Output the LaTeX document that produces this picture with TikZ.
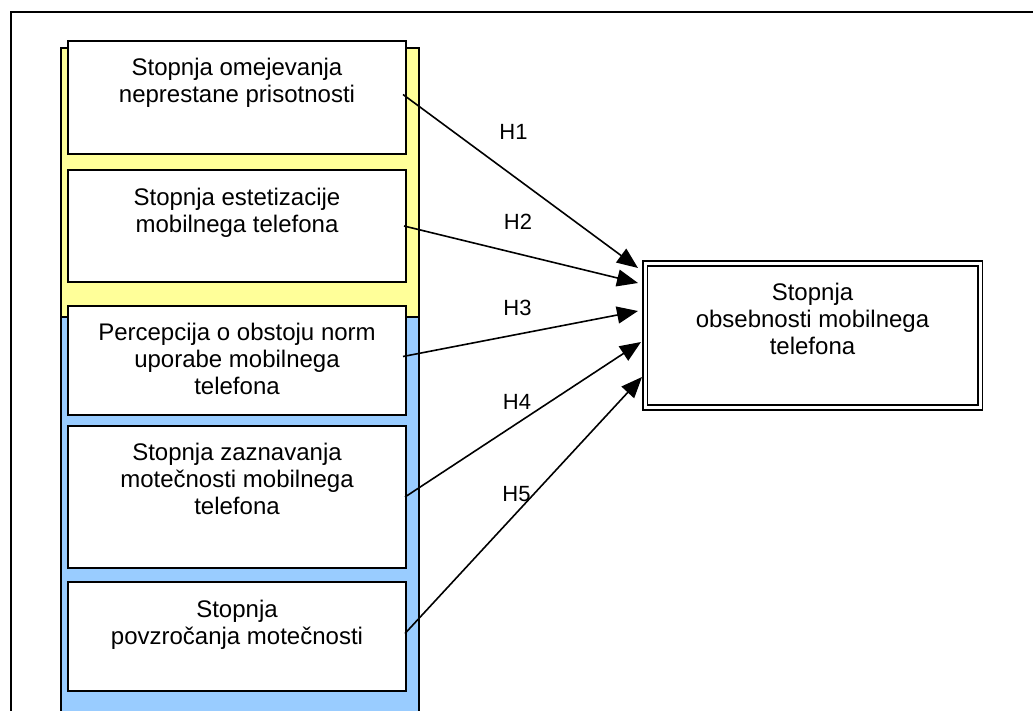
\documentclass[tikz,border=0pt]{standalone}
\usepackage{fontspec}
\setmainfont{Liberation Sans}
\usetikzlibrary{arrows.meta,calc}
\definecolor{colyellow}{HTML}{FFFF99}
\definecolor{colblue}{HTML}{99CCFF}
\tikzset{
  frameline/.style={draw=black,line width=1.6pt},
  column/.style={draw=black,line width=1.6pt},
  factorbox/.style={draw=black,fill=white,line width=1.6pt,rectangle,minimum width=338pt,inner sep=0pt,outer sep=0pt},
  boxtext/.style={align=center,inner sep=0pt,anchor=north,font=\fontsize{24}{27}\selectfont},
  targetbox/.style={draw=black,double=white,double distance=3pt,line width=1.8pt,fill=white,rectangle,minimum width=335pt,minimum height=144pt,inner sep=0pt,outer sep=0pt},
  hyparrow/.style={line width=1.6pt,-{Triangle[length=21pt,width=17pt]}},
  hyplabel/.style={anchor=base,inner sep=0pt,font=\fontsize{22}{26}\selectfont}
}
\begin{document}
\begin{tikzpicture}[x=1pt,y=-1pt]
\useasboundingbox (0,0) rectangle (1033,711);
\clip (0,0) rectangle (1033,711);
% outer frame (cut off at right and bottom)
\draw[frameline] (11,12) rectangle (1045,725);
% columns
\filldraw[column,fill=colyellow] (61,48) rectangle (419,317);
\filldraw[column,fill=colblue] (61,317) rectangle (419,730);
% factor boxes
\node[factorbox,minimum height=113pt] (b1) at (237,97.5) {};
\node[factorbox,minimum height=112pt] (b2) at (237,226) {};
\node[factorbox,minimum height=109pt] (b3) at (237,360.5) {};
\node[factorbox,minimum height=142pt] (b4) at (237,497) {};
\node[factorbox,minimum height=109pt] (b5) at (237,636.5) {};
\node[boxtext] (t1) at (237,58) {Stopnja omejevanja\\neprestane prisotnosti};
\node[boxtext] (t2) at (237,187.5) {Stopnja estetizacije\\mobilnega telefona};
\node[boxtext] (t3) at (237,322.5) {Percepcija o obstoju norm\\uporabe mobilnega\\telefona};
\node[boxtext] (t4) at (237,443) {Stopnja zaznavanja\\motečnosti mobilnega\\telefona};
\node[boxtext] (t5) at (237,599.5) {Stopnja\\povzročanja motečnosti};
% target box
\node[targetbox] (tg) at (812.5,335.5) {};
\node[boxtext] (tgt) at (812.5,283) {Stopnja\\obsebnosti mobilnega\\telefona};
% arrows
\draw[hyparrow] ([xshift=-3pt,yshift=3pt]b1.east) -- ($(tg.west)+(-7,-67.5)$);
\draw[hyparrow] ([xshift=-2pt]b2.east) -- ($(tg.west)+(-7,-52.5)$);
\draw[hyparrow] ([xshift=-3pt,yshift=4pt]b3.east) -- ($(tg.west)+(-7,-24.5)$);
\draw[hyparrow] ([xshift=-1pt]b4.east) -- ($(tg.west)+(-4,6.5)$);
\draw[hyparrow] ([xshift=-1pt,yshift=3pt]b5.east) -- ($(tg.west)+(-3,41.5)$);
% labels
\node[hyplabel] (h1) at (513.5,140) {H1};
\node[hyplabel] (h2) at (518,229.3) {H2};
\node[hyplabel] (h3) at (517.5,315.7) {H3};
\node[hyplabel] (h4) at (517,409) {H4};
\node[hyplabel] (h5) at (516.5,501.7) {H5};
\end{tikzpicture}
\end{document}
